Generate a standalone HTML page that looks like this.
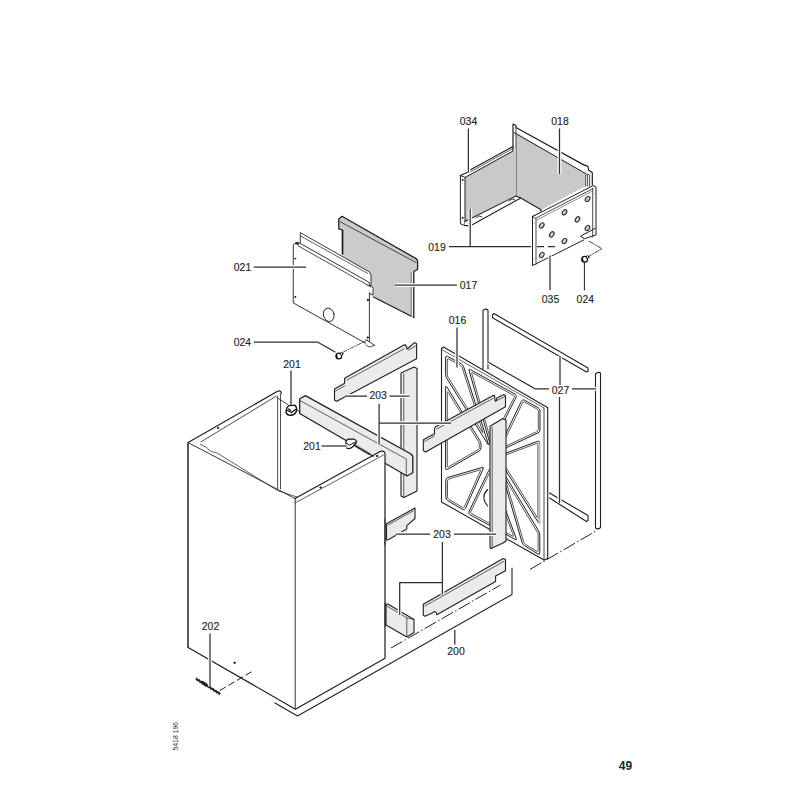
<!DOCTYPE html>
<html><head><meta charset="utf-8"><style>
html,body{margin:0;padding:0;background:#fff;width:800px;height:800px;overflow:hidden}
svg{display:block}
text{font-family:"Liberation Sans",sans-serif;fill:#262626}
</style></head><body>
<svg width="800" height="800" viewBox="0 0 800 800">
<rect width="800" height="800" fill="#fff"/>
<g fill="none" stroke="#1f1f1f" stroke-width="1" stroke-linejoin="round" stroke-linecap="round">

<!-- ===== TRAY 034/018/035 ===== -->
<!-- back panel 018 -->
<polygon points="516,133 585.7,173.5 585.7,186 541,210 520.7,198 516,196" fill="#c9c9c9" stroke="none"/>
<path d="M513,197 V124 L516,125.5 V127.5 L585.1,165.6 L586,165.2 L588.1,166.7 L588.5,170.1 L591.5,172 L592.3,172.8 V185" stroke-width="1.2"/>
<path d="M514,132.5 L586.2,173.9" stroke-width="1"/>
<path d="M516,128 V196" stroke-width="0.8"/>
<path d="M585.7,186.3 V175 L587.6,174.2 L589.6,175 V186.3 M587.6,175 V186" stroke-width="0.8" fill="#fff"/>
<!-- left panel 034 -->
<polygon points="465,177 516,149 516,196 465,221.5" fill="#c9c9c9" stroke="none"/>
<path d="M460.4,175.5 L469,171.5 L470,170 L513,146.5" stroke-width="1.2"/>
<path d="M465,177.5 L513,151"/>
<path d="M470,172 L513,148.5" stroke-width="0.7"/>
<path d="M460.4,175.5 V223.8 L465,225.6 V177.5 L460.4,175.5" fill="#fff"/>
<path d="M465,221.5 L516,196 L520.7,198 L471,225.6 L465,225.6" fill="#fff" stroke-width="1.1"/>
<path d="M476,218 l3,-2 l3,1 M509,201 l3,-2 l3,1" stroke-width="0.8"/>
<circle cx="462.5" cy="180" r="0.5" fill="#222"/>
<circle cx="462.5" cy="218" r="0.5" fill="#222"/>
<!-- right panel 035 -->
<path d="M532.5,216.6 L541,212.6 V209.8 M520.7,198 L541,209.8" stroke-width="1.1"/>
<polygon points="532.5,216.6 593.2,185.6 596,187 596,235 532.5,265.6" fill="#fff" stroke="none"/><path d="M583.7,240 L532.5,265.6 V216.6 L593.2,185.6 L596,187 V235 L584.4,238.75 L580.6,236.2 L595,228.4" stroke-width="1"/>
<path d="M536,218.5 V264" stroke-width="0.8"/>
<path d="M532.5,216.6 L535.5,218.3 L593.2,188.5" stroke-width="0.8"/>
<path d="M537,220 L592.5,191" stroke-width="0.5"/>
<path d="M592.7,188.5 V237" stroke-width="0.8"/>
<circle cx="534.2" cy="223" r="0.45" fill="#333" stroke="none"/>
<circle cx="534.2" cy="259" r="0.45" fill="#333" stroke="none"/>
<circle cx="594.3" cy="194" r="0.45" fill="#333" stroke="none"/>
<g stroke-width="1.1" fill="#d4d4d4" stroke="#2a2a2a">
<ellipse cx="587.6" cy="199" rx="1.9" ry="2.9" transform="rotate(35 587.6 199)"/>
<ellipse cx="564.5" cy="212.3" rx="1.9" ry="2.9" transform="rotate(35 564.5 212.3)"/>
<ellipse cx="577.5" cy="219.4" rx="1.9" ry="2.9" transform="rotate(35 577.5 219.4)"/>
<ellipse cx="541.8" cy="225.5" rx="1.9" ry="2.9" transform="rotate(35 541.8 225.5)"/>
<ellipse cx="551.8" cy="234.4" rx="1.9" ry="2.9" transform="rotate(35 551.8 234.4)"/>
<ellipse cx="587.5" cy="228" rx="1.9" ry="2.9" transform="rotate(35 587.5 228)"/>
<ellipse cx="564.4" cy="241" rx="1.9" ry="2.9" transform="rotate(35 564.4 241)"/>
<ellipse cx="541.8" cy="255" rx="1.9" ry="2.9" transform="rotate(35 541.8 255)"/>
</g>
<!-- screw 024 right -->
<path d="M587,257.3 L601.9,248.75 L588,240.6" stroke-dasharray="5,1.5,1,1.5" stroke-width="0.9" stroke="#333"/>
<g stroke="#111" stroke-width="1.2"><circle cx="584.6" cy="259.2" r="2.9" fill="#fff"/><path d="M582.6,257.8 Q581.8,260.5 583.5,261.5" stroke-width="1.4"/><circle cx="587.6" cy="257" r="1.3" fill="#fff" stroke-width="1"/></g>
<path d="M584.4,262 V290"/>

<!-- ===== PANEL 017 ===== -->
<polygon points="338.8,228.8 338.8,219 342,216.3 417.5,259.4 417.5,270 413.5,271.5 413.5,318 342.5,280.6 342.5,230" fill="#cbcbcb" stroke="none"/>
<path d="M342.5,254 V230 L338.8,228.8 V219 L342,216.3 L416,258.6 Q417.6,259.6 417.6,261.5 V269.5 L413.8,271.5 V317.5 L373.5,297" stroke-width="1.3"/>
<path d="M340.3,221.8 L416,262.5" stroke-width="0.8"/>
<path d="M412.2,272.3 V317" stroke="#eee" stroke-width="1.6"/>
<path d="M411.2,272.5 V316.5" stroke-width="0.8" stroke="#555"/>
<path d="M342.5,230.5 V254" stroke-width="1.5"/>
<!-- ===== PANEL 021 ===== -->
<polygon points="300.6,232.8 369.4,271.9 371,275 371,286 300.6,246" fill="#fff" stroke-width="0.9"/>
<path d="M300.6,236 L367.8,273.5" stroke-width="0.7"/>
<polygon points="293.6,244.5 296,242.5 298.3,242.3 369.4,282.5 369.4,345.3 293.6,303.1" fill="#fff" stroke-width="0.9"/>
<path d="M298.3,246 L369.4,286" stroke-width="0.8"/>
<path d="M295.5,243.5 l2.5,-1 l0.5,2 z" fill="#222" stroke-width="0.8"/>
<path d="M367,285 L373,287.5 V295 L369.4,293" fill="#fff" stroke-width="0.8"/>
<path d="M366,339.8 L374.8,345.3 L369.4,347 L366,345" fill="#fff" stroke-width="0.8"/>
<ellipse cx="328.75" cy="314.8" rx="5.3" ry="6.8" transform="rotate(-15 328.75 314.8)" stroke-width="0.9"/>
<circle cx="295.2" cy="258.6" r="0.5" fill="#222"/>
<circle cx="295.2" cy="296.9" r="0.5" fill="#222"/>
<circle cx="367.8" cy="300" r="0.7" fill="#222"/>
<circle cx="367.8" cy="337.5" r="0.7" fill="#222"/>
<!-- screw 024 left -->
<path d="M343,352.2 L367.5,340" stroke-dasharray="4,1.5,1,1.5" stroke-width="0.9" stroke="#444"/>
<g stroke="#111" stroke-width="1.2"><circle cx="338.8" cy="356" r="2.9" fill="#fff"/><path d="M336.8,354.6 Q336,357.3 337.7,358.3" stroke-width="1.4"/><circle cx="341.6" cy="353.8" r="1.3" fill="#fff" stroke-width="1"/></g>

<!-- ===== STRIPS 027 ===== -->
<path d="M483,369 V310.5 Q485.5,308 488,310 V369" fill="#fff" stroke-width="1.1"/>
<path d="M492.5,315 L494,313.5 L588,368 V371.5 L586.5,372 L492.5,317.8 Z" fill="#fff" stroke-width="1.1"/>
<path d="M595.5,528 V374 Q598,371.5 600.5,373 V527.5 Q598,530 595.5,528" fill="#fff" stroke-width="1.1"/>
<path d="M549.5,493 L588,515.5 V520.5 L586.5,521.5 L549.5,498" fill="#fff" stroke-width="1.1"/>

<!-- ===== FRAME 016 ===== -->
<polygon points="441.5,348.5 443.5,347 544,405.5 547.7,407.5 547.7,558.5 544,560 441.5,502" fill="#fff" stroke-width="1.1"/>
<path d="M442.5,350 L544,408" stroke-width="0.7"/>
<path d="M544,408 V560" stroke-width="0.8"/>
<!-- FRAMEOPEN -->
<g stroke-width="0.9">
<!-- A -->
<path d="M445.6,357.5 Q445.6,355.3 447.5,356.4 L461.1,363.7 Q463.0,364.8 463.7,366.9 L488.3,443.9 Q489.0,446.0 487.8,444.1 L446.8,378.4 Q445.6,376.5 445.6,374.3 Z" stroke-width="1.0"/>
<path d="M447.3,359.7 Q447.3,358.2 448.7,358.9 L460.2,365.2 Q461.6,366.0 462.1,367.4 L482.8,432.1 Q483.2,433.5 482.4,432.2 L448.1,377.3 Q447.3,376.0 447.3,374.5 Z" stroke-width="0.75"/>
<!-- B -->
<path d="M445.6,387.2 Q445.6,385.0 446.8,386.9 L479.8,440.6 Q481.0,442.5 481.0,444.7 L481.0,447.8 Q481.0,450.0 479.1,451.1 L447.5,469.4 Q445.6,470.5 445.6,468.3 Z" stroke-width="1.0"/>
<path d="M447.3,392.5 Q447.3,391.0 448.1,392.3 L478.5,441.7 Q479.3,443.0 479.3,444.5 L479.3,447.5 Q479.3,449.0 478.0,449.8 L448.6,466.8 Q447.3,467.6 447.3,466.0 Z" stroke-width="0.75"/>
<!-- C -->
<path d="M469.1,370.6 Q468.5,368.5 470.4,369.6 L515.1,394.2 Q517.0,395.3 516.0,397.3 L492.0,445.0 Q491.0,447.0 490.4,444.9 Z" stroke-width="1.0"/>
<path d="M471.7,373.4 Q471.3,372.0 472.6,372.7 L513.4,395.3 Q514.7,396.0 514.1,397.4 L492.1,441.0 Q491.4,442.3 491.0,440.9 Z" stroke-width="0.75"/>
<!-- D -->
<path d="M521.5,401.0 Q522.5,399.0 524.4,400.1 L538.1,407.7 Q540.0,408.8 540.0,411.0 L540.0,429.8 Q540.0,432.0 538.0,432.9 L499.0,451.1 Q497.0,452.0 498.0,450.0 Z" stroke-width="1.0"/>
<path d="M522.6,402.8 Q523.2,401.4 524.6,402.1 L537.0,409.0 Q538.3,409.8 538.3,411.3 L538.3,429.4 Q538.3,430.9 536.9,431.6 L502.0,447.8 Q500.6,448.5 501.3,447.1 Z" stroke-width="0.75"/>
<!-- E -->
<path d="M537.5,441.3 Q539.6,440.5 539.6,442.7 L539.6,522.3 Q539.6,524.5 538.4,522.6 L498.2,458.4 Q497.0,456.5 499.1,455.7 Z" stroke-width="1.0"/>
<path d="M536.5,443.5 Q537.9,443.0 537.9,444.5 L537.9,517.0 Q537.9,518.6 537.1,517.3 L500.4,458.7 Q499.5,457.4 501.0,456.8 Z" stroke-width="0.75"/>
<!-- F -->
<path d="M445.8,480.2 Q445.8,478.0 447.9,477.4 L481.9,467.6 Q484.0,467.0 483.1,469.0 L465.4,508.5 Q464.5,510.5 462.6,509.4 L447.7,500.6 Q445.8,499.5 445.8,497.3 Z" stroke-width="1.0"/>
<path d="M447.5,480.8 Q447.5,479.3 449.0,478.9 L479.5,470.1 Q481.0,469.6 480.3,471.1 L464.4,506.7 Q463.7,508.1 462.4,507.3 L448.8,499.3 Q447.5,498.5 447.5,497.0 Z" stroke-width="0.75"/>
<!-- G -->
<path d="M489.0,470.0 Q490.0,468.0 490.8,470.1 L516.2,538.4 Q517.0,540.5 515.1,539.4 L469.9,514.6 Q468.0,513.5 469.0,511.5 Z" stroke-width="1.0"/>
<path d="M489.1,473.7 Q489.8,472.3 490.3,473.8 L513.3,535.4 Q513.8,536.8 512.5,536.1 L471.6,513.5 Q470.2,512.8 470.9,511.4 Z" stroke-width="0.75"/>
<!-- H -->
<path d="M500.6,468.8 Q500.0,466.7 501.1,468.6 L538.7,531.1 Q539.8,533.0 539.8,535.2 L539.8,552.8 Q539.8,555.0 537.9,553.9 L524.6,545.7 Q522.7,544.6 522.1,542.5 Z" stroke-width="1.0"/>
<path d="M505.7,480.3 Q505.3,478.9 506.1,480.2 L537.3,532.2 Q538.1,533.5 538.1,535.0 L538.1,550.4 Q538.1,552.0 536.8,551.2 L525.5,544.3 Q524.1,543.5 523.7,542.0 Z" stroke-width="0.75"/>
</g>
<!-- /FRAMEOPEN -->
<path d="M487.7,489.5 Q480,497 487.7,506" stroke-width="1.1"/>
<path d="M539.2,444 V523" stroke="#b5b5b5" stroke-width="2"/>

<!-- ===== BAR 203 upper (334..417) ===== -->
<polygon points="334.5,389 344.6,383.2 344.6,378.2 404,345 405.5,344.7 407.2,349 414.4,342.6 416.6,343.8 416.6,358.8 336.8,401.3 334.5,400.2" fill="#ebebeb" stroke-width="1.1"/>
<path d="M335.6,391 L344.8,385.8 M346.9,380.2 L404,348.8 M408.3,350.2 L415.5,346" stroke-width="0.7"/>
<!-- ===== BAR 203 vertical right (401..417) ===== -->
<polygon points="401,373 414,367 417,368.5 417,491 404,497.5 401,496" fill="#ebebeb" stroke-width="1.1"/>
<path d="M403.8,374 V497" stroke-width="0.7"/>

<!-- ===== BAR 203 diag near frame (423..506) ===== -->
<polygon points="423.3,439.8 434.5,433.8 434.5,428.5 435.6,426.8 493.2,395.6 494.5,395.2 495.3,401.3 496.6,400.6 496.6,398.2 503.8,394.5 505.5,395.6 505.5,406.8 425.6,452 423.3,450.6" fill="#ebebeb" stroke-width="1.1"/>
<path d="M424.2,441.6 L434.5,436 M436.8,429 L493.4,398.2 M497,400.4 L504.8,396.6" stroke-width="0.7"/>
<!-- ===== BAR 203 vertical frame (490..506) ===== -->
<polygon points="490,426.2 502.5,418.7 505,419.5 506,420.5 506,541 503,543 490.5,548.8 490,547" fill="#ebebeb" stroke-width="1.1"/>
<path d="M492.2,427 V548" stroke-width="0.7"/>

<!-- ===== BOX 200 ===== -->
<polygon points="188.1,442.6 278.4,391.4 281,393 383,451.5 385,453 385,658.3 295.4,709.2 188.1,647.4" fill="#fff" stroke="none"/>
<path d="M188.1,647.4 V442.6 L277.5,391.3 Q279.5,390.3 281,391.8 L281.3,393.5" stroke-width="1.2"/>
<path d="M201,441.8 L276,396.3" stroke-width="0.8"/>
<path d="M277.6,396.3 V490.6 M280.5,394 V489" stroke-width="0.8"/>
<path d="M277,397.5 L289,405.5 M296,409.5 L345,438 M357,445 L381,452" stroke-width="0.8"/>
<!-- bar 203 in box -->
<polygon points="299.7,398.8 305.4,395.6 411,454 412.8,456.5 412.8,472.8 407,476 299.7,413.5" fill="#ebebeb" stroke="none"/>
<path d="M299.7,413.5 V398.8 L305.4,395.6 L411,454 L412.8,456.5 V472.8 L407,476 L299.7,413.5" stroke-width="1.3"/>
<path d="M299.7,400.4 L406.3,459 V475.2" stroke-width="0.7"/>
<!-- box faces (front) -->
<polygon points="188.1,442.6 295,498.5 383,451.5 385,453 385,658.3 295.4,709.2 188.1,647.4" fill="#fff" stroke="none"/>
<path d="M295,498.5 L380.5,451.3 Q382.5,450.6 384.2,451.8 L385,453.5 V658.3 L295.4,709.2 L188.1,647.4 V442.6" stroke-width="1.2"/><path d="M188.1,442.6 L295,498.5" stroke-width="0.9"/>
<path d="M295.2,498.5 V709" stroke-width="0.9"/>
<path d="M295,503 L383.5,455" stroke-width="0.7"/>
<path d="M200.3,444.2 L206.8,447.5 L210,451 L217.4,453.2 L277.6,490.6 L297,497" stroke-width="0.7"/>
<circle cx="218" cy="428" r="0.7" fill="#333"/>
<circle cx="320.5" cy="487.5" r="0.7" fill="#333"/>
<circle cx="377" cy="456" r="0.7" fill="#333"/>
<circle cx="234.5" cy="662.8" r="0.7" fill="#333"/>
<!-- clips 201 -->
<path d="M286.5,409.5 Q287,405.8 291,405.4 L294.2,405.2 Q297.2,406.5 296.5,410.5 Q295.5,414.8 291,415.3 Q287,415.6 286,412 Z" fill="#fff" stroke="#111" stroke-width="1.4"/>
<path d="M287.5,410.5 L291.5,412.5 L295.5,409.5 M288.5,409 l2,1.5" stroke="#111" stroke-width="1.2"/>
<path d="M346,443 Q345.6,439.8 349,439.2 L353.5,439 Q357.5,440 356,443 L352.5,447 Q349.5,449.5 346.6,448 Q345.2,446.5 346,443 Z" fill="#fff" stroke="#111" stroke-width="1.2"/>
<path d="M346.5,443.5 L349.5,445.2 L355.5,442" stroke="#111" stroke-width="1"/>
<path d="M354,443.8 L370.6,453.9 M354.9,446.4 L368.9,454.75" stroke-width="0.6"/>
<!-- base 200 -->
<path d="M275,703 L297.5,716 L512,594.5 V568" stroke-width="1.1"/>
<!-- bar end in box (lower) -->
<polygon points="386,604 387.8,604 414,619.5 414,632.5 406.8,637 386,625" fill="#ebebeb" stroke-width="1.1"/>
<path d="M386,605.5 L406.8,617.8 V636 M406.8,617.8 L414,619.5" stroke-width="0.7"/>
<path d="M385,603 V627" stroke-width="0.9"/>
<!-- small bar 203 (387..415, 508..540) -->
<polygon points="386.5,523.5 387.8,523 415,508 415,518.5 406.8,525.6 406.8,529 387.8,540 386.5,540" fill="#ebebeb" stroke-width="1.1"/>
<path d="M388,525 L413,511" stroke-width="0.7"/>
<path d="M385,519 V545" stroke-width="0.9"/>
<!-- lower bar 203 (423..506, 559..615) -->
<polygon points="423.3,604.3 503.2,558.5 505.5,559.6 505.5,570.8 495.6,576 495.6,581.4 436.8,614.8 436,612.2 434.5,611.5 433.3,612.6 425,616.3 423.3,615.3" fill="#ebebeb" stroke-width="1.1"/>
<path d="M425,606 L503.8,561.4" stroke-width="0.7"/>

<!-- screw 202 -->
<path d="M196.3,679 L219.8,693.7" stroke-width="1.6"/>
<path d="M197.0,677.9 L197.0,681.0 L199.8,679.6 L199.8,682.7 L202.5,681.4 L202.5,684.4 L205.3,683.1 L205.3,686.2 L208.0,684.8 L208.1,687.9 L210.8,686.5 L210.8,689.6 L213.6,688.3 L213.6,691.3 L216.3,690.0 L216.3,693.1 L219.1,691.7 L219.1,694.8" stroke-width="0.9"/>
<path d="M202.5,682.5 L206,684.8" stroke-width="3.2"/>
<!-- ===== DASH-DOT LINES ===== -->
<g stroke-width="1" stroke-dasharray="13,2.5,1.5,2.5" stroke-linecap="butt">
<path d="M219.8,690.5 L251.5,671.8" stroke-dasharray="7,3"/>
<path d="M391,648 L500.6,585"/>
<path d="M530,569.4 L596,531"/>
</g>

<!-- ===== LEADERS ===== -->
<g stroke="#fff" stroke-width="3.8" stroke-linecap="butt">
<path d="M468.4,128.5 V172"/>
<path d="M559.5,128.5 V174"/>
<path d="M449,246.7 H531 M470.2,209 V246.7"/>
<path d="M537,246.7 H544 M548,246.7 H555"/>
<path d="M395,285.2 H457"/>
<path d="M550,255.5 V290"/>
<path d="M253.8,267 H306"/>
<path d="M253.8,342 H317.5 L335.5,352.3"/>
<path d="M457,327.5 V367.5"/>
<path d="M488,362 L535,388.8"/><path d="M535,388.8 H549 M572,388.8 H596 M560,356 V385 M559.5,397 V503"/>
<path d="M291,370.5 V405"/>
<path d="M321.5,446 H346.5"/>
<path d="M345,396 H367 M389.5,396 H409.5 M379.1,403.7 V444.3 M379.1,423.2 H451"/>
<path d="M396,534 H430 M454,534 H496 M442.4,542 V594.5 M442.4,582.6 H399.7 V614.7"/>
<path d="M210,633.6 V686.4"/>
<path d="M454.8,630 V644.4"/>
</g>
<g stroke="#2e2e2e" stroke-width="1.25" stroke-linecap="butt">
<path d="M468.4,128.5 V172"/>
<path d="M559.5,128.5 V174"/>
<path d="M449,246.7 H531 M470.2,209 V246.7"/>
<path d="M537,246.7 H544 M548,246.7 H555"/>
<path d="M395,285.2 H457"/>
<path d="M550,255.5 V290"/>
<path d="M253.8,267 H306"/>
<path d="M253.8,342 H317.5 L335.5,352.3"/>
<path d="M457,327.5 V367.5"/>
<path d="M488,362 L535,388.8" stroke="#1f1f1f" stroke-width="1.1"/><path d="M535,388.8 H549 M572,388.8 H596 M560,356 V385 M559.5,397 V503"/>
<path d="M291,370.5 V405"/>
<path d="M321.5,446 H346.5"/>
<path d="M345,396 H367 M389.5,396 H409.5 M379.1,403.7 V444.3 M379.1,423.2 H451"/>
<path d="M396,534 H430 M454,534 H496 M442.4,542 V594.5 M442.4,582.6 H399.7 V614.7"/>
<path d="M210,633.6 V686.4"/>
<path d="M454.8,630 V644.4"/>
</g>
</g>

<!-- ===== LABELS ===== -->
<g font-size="11" stroke="#262626" stroke-width="0.15">
<text x="459.8" y="125.0" textLength="17.4" lengthAdjust="spacingAndGlyphs">034</text>
<text x="551.3" y="125.0" textLength="17.4" lengthAdjust="spacingAndGlyphs">018</text>
<text x="428.3" y="251.0" textLength="17.4" lengthAdjust="spacingAndGlyphs">019</text>
<text x="459.8" y="288.5" textLength="17.4" lengthAdjust="spacingAndGlyphs">017</text>
<text x="541.8" y="302.5" textLength="17.4" lengthAdjust="spacingAndGlyphs">035</text>
<text x="576.6" y="302.5" textLength="17.4" lengthAdjust="spacingAndGlyphs">024</text>
<text x="233.8" y="270.8" textLength="17.4" lengthAdjust="spacingAndGlyphs">021</text>
<text x="233.7" y="345.5" textLength="17.4" lengthAdjust="spacingAndGlyphs">024</text>
<text x="448.8" y="323.5" textLength="17.4" lengthAdjust="spacingAndGlyphs">016</text>
<text x="551.8" y="393.5" textLength="17.4" lengthAdjust="spacingAndGlyphs">027</text>
<text x="283.3" y="367.5" textLength="17.4" lengthAdjust="spacingAndGlyphs">201</text>
<text x="303.3" y="449.5" textLength="17.4" lengthAdjust="spacingAndGlyphs">201</text>
<text x="369.5" y="399.1" textLength="17.4" lengthAdjust="spacingAndGlyphs">203</text>
<text x="433.3" y="538.2" textLength="17.4" lengthAdjust="spacingAndGlyphs">203</text>
<text x="201.8" y="630.0" textLength="17.4" lengthAdjust="spacingAndGlyphs">202</text>
<text x="447.3" y="655.0" textLength="17.4" lengthAdjust="spacingAndGlyphs">200</text>
</g>
<text x="625.5" y="770" font-size="12" font-weight="bold" text-anchor="middle" fill="#1a1a1a">49</text>
<text transform="translate(178,750.5) rotate(-90)" font-size="6.6" fill="#333" textLength="28.5" lengthAdjust="spacingAndGlyphs">5418 196</text>
</svg>
</body></html>
